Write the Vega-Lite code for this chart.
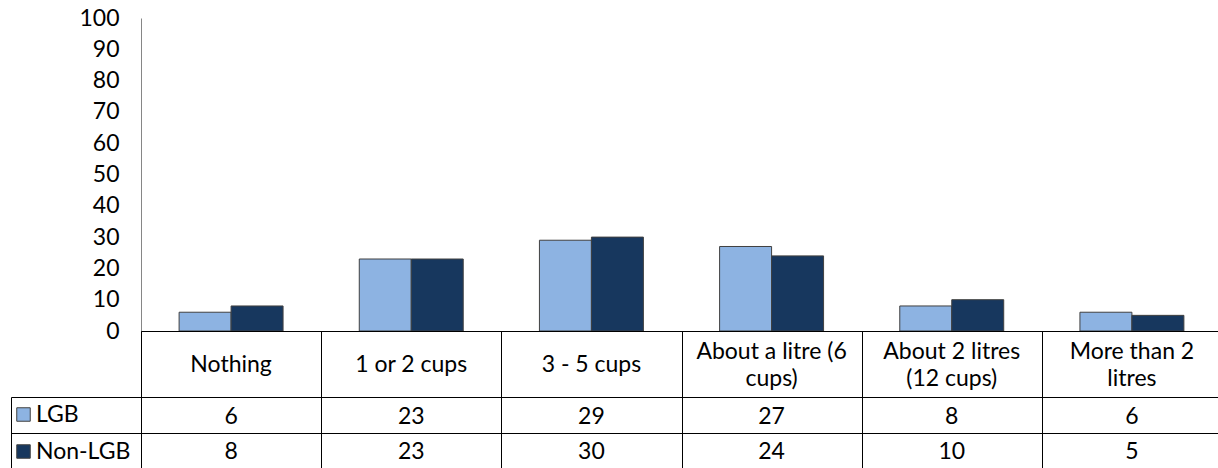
{
  "$schema": "https://vega.github.io/schema/vega-lite/v6.json",
  "padding": {"left": 10, "top": 7, "right": 0, "bottom": 0},
  "autosize": {"type": "pad"},
  "background": "white",
  "config": {
    "font": "Lato",
    "view": {"stroke": null},
    "axis": {"labelFont": "Lato", "labelFontSize": 23, "labelColor": "black", "title": null},
    "text": {"font": "Lato", "fontSize": 23, "color": "black"}
  },
  "datasets": {
    "bars": [
      {"cat": "Nothing", "group": "LGB", "value": 6},
      {"cat": "Nothing", "group": "Non-LGB", "value": 8},
      {"cat": "1 or 2 cups", "group": "LGB", "value": 23},
      {"cat": "1 or 2 cups", "group": "Non-LGB", "value": 23},
      {"cat": "3 - 5 cups", "group": "LGB", "value": 29},
      {"cat": "3 - 5 cups", "group": "Non-LGB", "value": 30},
      {"cat": "About a litre (6 cups)", "group": "LGB", "value": 27},
      {"cat": "About a litre (6 cups)", "group": "Non-LGB", "value": 24},
      {"cat": "About 2 litres (12 cups)", "group": "LGB", "value": 8},
      {"cat": "About 2 litres (12 cups)", "group": "Non-LGB", "value": 10},
      {"cat": "More than 2 litres", "group": "LGB", "value": 6},
      {"cat": "More than 2 litres", "group": "Non-LGB", "value": 5}
    ],
    "cats": [
      {"cat": "Nothing", "label": "Nothing", "lines": 1},
      {"cat": "1 or 2 cups", "label": "1 or 2 cups", "lines": 1},
      {"cat": "3 - 5 cups", "label": "3 - 5 cups", "lines": 1},
      {"cat": "About a litre (6 cups)", "label": "About a litre (6\ncups)", "lines": 2},
      {"cat": "About 2 litres (12 cups)", "label": "About 2 litres\n(12 cups)", "lines": 2},
      {"cat": "More than 2 litres", "label": "More than 2\nlitres", "lines": 2}
    ]
  },
  "spacing": 0,
  "bounds": "flush",
  "resolve": {"scale": {"color": "independent"}},
  "vconcat": [
    {
      "width": 1081,
      "height": 313,
      "data": {"name": "bars"},
      "mark": {"type": "bar", "stroke": "#404040", "strokeWidth": 1},
      "encoding": {
        "x": {"field": "cat", "type": "nominal", "sort": null, "scale": {"paddingInner": 0, "paddingOuter": 0}, "axis": null},
        "xOffset": {"field": "group", "type": "nominal", "sort": null, "scale": {"paddingInner": 0, "paddingOuter": 0.733}},
        "y": {
          "field": "value", "type": "quantitative",
          "scale": {"domain": [0, 100], "nice": false},
          "axis": {"values": [0, 10, 20, 30, 40, 50, 60, 70, 80, 90, 100], "ticks": false, "grid": false, "domainColor": "#868686", "domainWidth": 1, "labelPadding": 22}
        },
        "color": {
          "field": "group", "type": "nominal", "sort": null,
          "scale": {"domain": ["LGB", "Non-LGB"], "range": ["#8DB3E2", "#17375E"]},
          "legend": {
            "orient": "none", "legendX": -129, "legendY": 385, "title": null,
            "padding": 0, "symbolType": "square", "symbolSize": 182,
            "symbolStrokeColor": "#404040", "symbolStrokeWidth": 1,
            "labelFont": "Lato", "labelFontSize": 23, "labelColor": "black",
            "labelOffset": 1, "rowPadding": 13
          }
        }
      }
    },
    {
      "width": 1081,
      "height": 66,
      "data": {"name": "cats"},
      "view": {"stroke": "black", "strokeWidth": 1},
      "encoding": {
        "x": {
          "field": "cat", "type": "nominal", "sort": null,
          "scale": {"paddingInner": 0, "paddingOuter": 0},
          "axis": {"orient": "top", "labels": false, "ticks": false, "domain": false, "grid": true, "gridColor": "black", "gridOpacity": 1, "gridWidth": 1, "tickBand": "extent"}
        },
        "text": {"field": "label", "type": "nominal"}
      },
      "layer": [
        {
          "transform": [{"filter": "datum.lines == 1"}],
          "mark": {"type": "text", "baseline": "middle", "dy": 1}
        },
        {
          "transform": [{"filter": "datum.lines == 2"}],
          "mark": {"type": "text", "lineBreak": "\n", "lineHeight": 27, "baseline": "middle", "dy": -12}
        }
      ]
    },
    {
      "width": 1081,
      "height": 71,
      "data": {"name": "bars"},
      "view": {"stroke": "black", "strokeWidth": 1},
      "mark": {"type": "text", "baseline": "middle", "dy": 2},
      "encoding": {
        "x": {
          "field": "cat", "type": "nominal", "sort": null,
          "scale": {"paddingInner": 0, "paddingOuter": 0},
          "axis": {"orient": "top", "labels": false, "ticks": false, "domain": false, "grid": true, "gridColor": "black", "gridOpacity": 1, "gridWidth": 1, "tickBand": "extent"}
        },
        "y": {
          "field": "group", "type": "nominal", "sort": null,
          "scale": {"paddingInner": 0, "paddingOuter": 0},
          "axis": {"offset": 130, "labels": false, "ticks": true, "tickSize": -1211, "tickColor": "black", "tickWidth": 1, "tickBand": "extent", "domain": true, "domainColor": "black", "domainWidth": 1, "grid": false}
        },
        "text": {"field": "value", "type": "quantitative"}
      }
    }
  ]
}
